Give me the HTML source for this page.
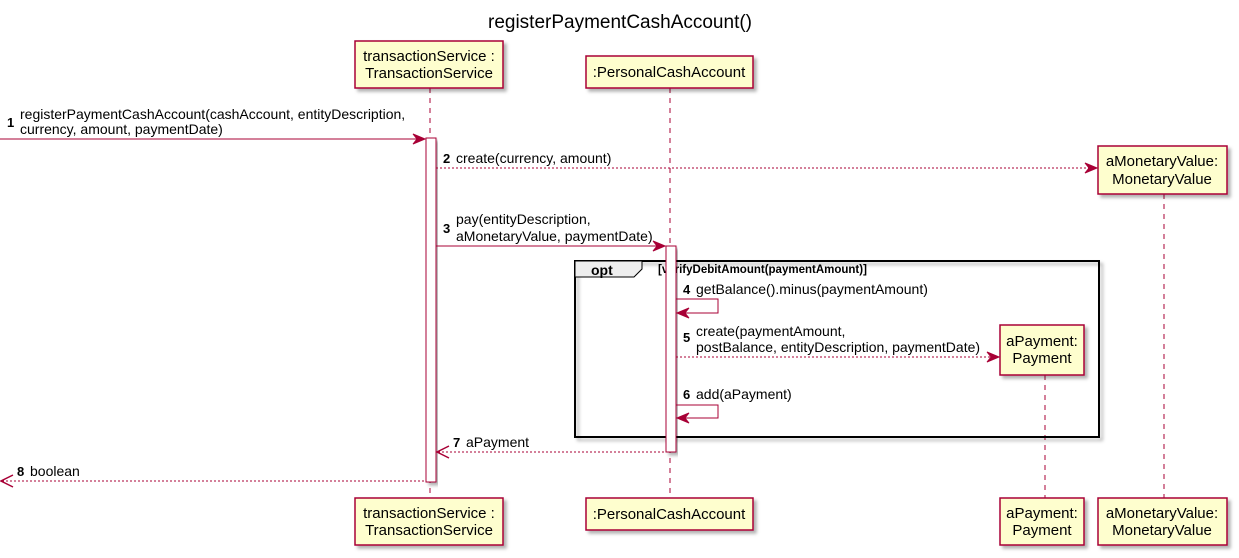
<!DOCTYPE html>
<html><head><meta charset="utf-8"><style>
body{margin:0;background:#fff}
svg{display:block;font-family:"Liberation Sans",sans-serif}
</style></head><body>
<svg width="1239" height="558" viewBox="0 0 1239 558" xmlns="http://www.w3.org/2000/svg">
<defs>
<filter id="sh" x="-10%" y="-10%" width="130%" height="140%"><feDropShadow dx="3" dy="3" stdDeviation="1.5" flood-color="#000" flood-opacity="0.3"/></filter>
</defs>
<text x="620" y="28" font-size="19" text-anchor="middle" fill="#000">registerPaymentCashAccount()</text>

<g stroke="#A80036" stroke-width="1" stroke-dasharray="5,5">
<line x1="430" y1="88" x2="430" y2="498"/>
<line x1="670" y1="88" x2="670" y2="498"/>
<line x1="1164" y1="194" x2="1164" y2="498"/>
<line x1="1045" y1="375" x2="1045" y2="498"/>
</g>

<rect x="575" y="261" width="524" height="176" fill="none" stroke="#000" stroke-width="2" filter="url(#sh)"/>
<path d="M575 261 H642 V269 L634 277 H575 Z" fill="#eee" stroke="#000" stroke-width="1"/>
<text x="591" y="275" font-size="14" font-weight="bold">opt</text>
<text x="658" y="273" font-size="11.5" font-weight="bold">[verifyDebitAmount(paymentAmount)]</text>

<rect x="426" y="138" width="10" height="344" fill="#fff" stroke="#A80036" filter="url(#sh)"/>
<rect x="666" y="246" width="10" height="206" fill="#fff" stroke="#A80036" filter="url(#sh)"/>

<g fill="#FEFECE" stroke="#A80036" stroke-width="1.5" filter="url(#sh)">
<rect x="355" y="41" width="148" height="47"/>
<rect x="586" y="56" width="167" height="32"/>
<rect x="1098" y="146" width="129" height="48"/>
<rect x="1000" y="325" width="84" height="50"/>
<rect x="355" y="498" width="148" height="47"/>
<rect x="586" y="498" width="167" height="32"/>
<rect x="1000" y="498" width="84" height="47"/>
<rect x="1098" y="498" width="129" height="47"/>
</g>
<g font-size="15" text-anchor="middle" fill="#000">
<text x="429" y="61">transactionService :</text><text x="429" y="78">TransactionService</text>
<text x="669" y="77">:PersonalCashAccount</text>
<text x="1162" y="166">aMonetaryValue:</text><text x="1162" y="184">MonetaryValue</text>
<text x="1042" y="346">aPayment:</text><text x="1042" y="363">Payment</text>
<text x="429" y="518">transactionService :</text><text x="429" y="535">TransactionService</text>
<text x="669" y="519">:PersonalCashAccount</text>
<text x="1042" y="518">aPayment:</text><text x="1042" y="535">Payment</text>
<text x="1162" y="518">aMonetaryValue:</text><text x="1162" y="535">MonetaryValue</text>
</g>

<g stroke="#A80036" stroke-width="1" fill="none">
<line x1="0" y1="139" x2="424" y2="139"/>
<line x1="436" y1="168" x2="1096" y2="168" stroke-dasharray="2,2"/>
<line x1="436" y1="246" x2="664" y2="246"/>
<polyline points="676,299 718,299 718,313 678,313"/>
<line x1="676" y1="357" x2="998" y2="357" stroke-dasharray="2,2"/>
<polyline points="676,405 718,405 718,418 678,418"/>
<line x1="438" y1="452" x2="666" y2="452" stroke-dasharray="2,2"/>
<line x1="2" y1="481" x2="426" y2="481" stroke-dasharray="2,2"/>
</g>
<g fill="#A80036" stroke="#A80036">
<path d="M425 139 L413 134 L417 139 L413 144 Z"/>
<path d="M1097 168 L1085 163 L1089 168 L1085 173 Z"/>
<path d="M665 246 L653 241 L657 246 L653 251 Z"/>
<path d="M677 313 L689 308 L685 313 L689 318 Z"/>
<path d="M999 357 L987 352 L991 357 L987 362 Z"/>
<path d="M677 418 L689 413 L685 418 L689 423 Z"/>
</g>
<g fill="none" stroke="#A80036" stroke-width="1.5">
<polyline points="449,446 437,452 449,458"/>
<polyline points="13,475 1,481 13,487"/>
</g>

<g font-size="14" fill="#000">
<text x="7" y="127" font-weight="bold" font-size="13">1</text>
<text x="20" y="119">registerPaymentCashAccount(cashAccount, entityDescription,</text>
<text x="20" y="134">currency, amount, paymentDate)</text>
<text x="443" y="163" font-weight="bold" font-size="13">2</text><text x="456" y="163">create(currency, amount)</text>
<text x="443" y="233" font-weight="bold" font-size="13">3</text>
<text x="456" y="224">pay(entityDescription,</text>
<text x="456" y="241"> aMonetaryValue, paymentDate)</text>
<text x="683" y="294" font-weight="bold" font-size="13">4</text><text x="696" y="294">getBalance().minus(paymentAmount)</text>
<text x="683" y="342" font-weight="bold" font-size="13">5</text>
<text x="696" y="336">create(paymentAmount,</text>
<text x="696" y="352">postBalance, entityDescription, paymentDate)</text>
<text x="683" y="399" font-weight="bold" font-size="13">6</text><text x="696" y="399">add(aPayment)</text>
<text x="453" y="447" font-weight="bold" font-size="13">7</text><text x="466" y="447">aPayment</text>
<text x="17" y="476" font-weight="bold" font-size="13">8</text><text x="30" y="476">boolean</text>
</g>
</svg>
</body></html>
